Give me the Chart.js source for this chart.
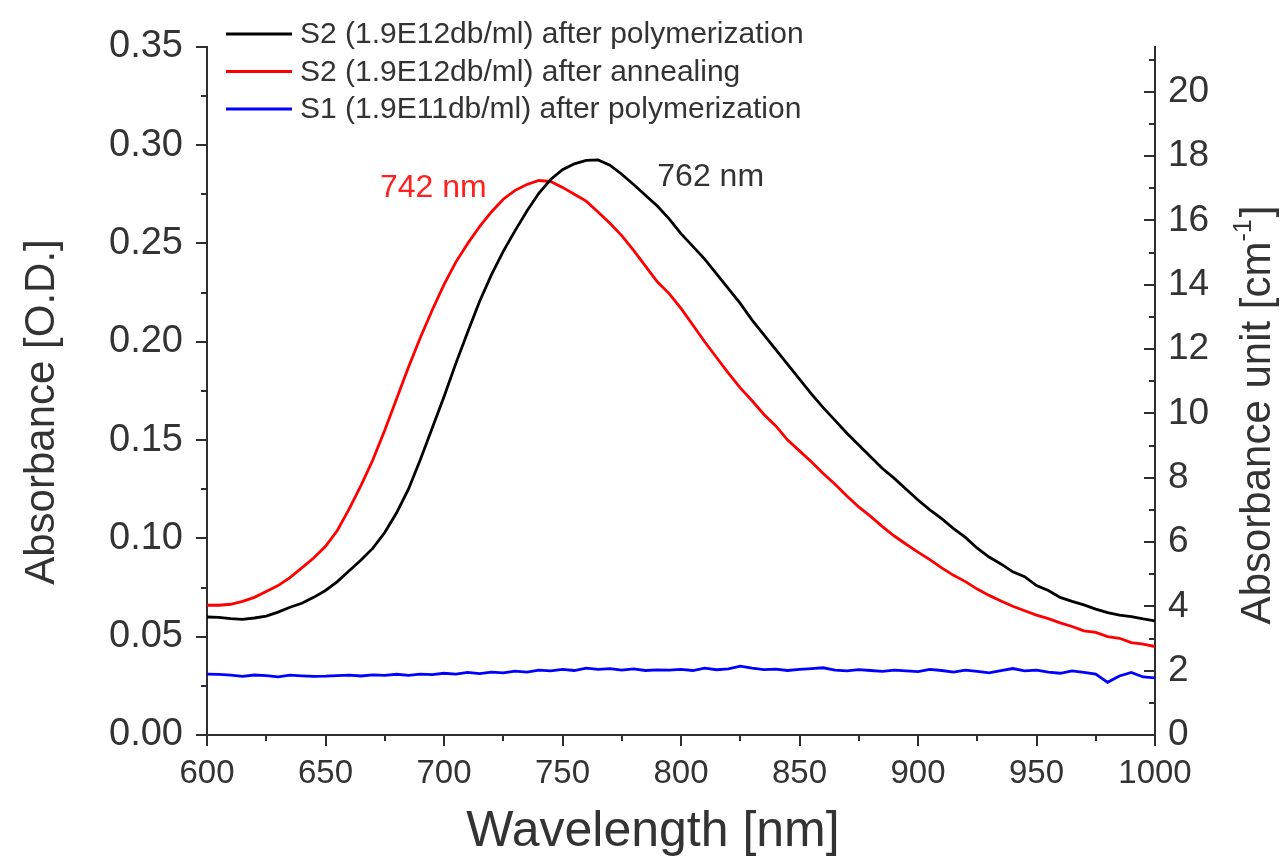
<!DOCTYPE html>
<html>
<head>
<meta charset="utf-8">
<title>Absorbance spectra</title>
<script src="https://cdn.jsdelivr.net/npm/chart.js@4.4.1/dist/chart.umd.min.js"></script>
<style>
  html, body { margin: 0; padding: 0; background: #fff; }
  #wrap { width: 1282px; height: 858px; }
</style>
</head>
<body>
<div id="wrap"><canvas id="chart" width="1282" height="858"></canvas></div>
<script>
/* Absorbance spectra: S2 after polymerization / annealing, S1 after polymerization */

const FONT = '"Liberation Sans", Arial, sans-serif';
const TEXT = '#333333';
const AXIS = '#2e2e2e';

// wavelength grid [nm]
const wavelengths = [
  600, 605, 610, 615, 620, 625, 630, 635, 640, 645,
  650, 655, 660, 665, 670, 675, 680, 685, 690, 695,
  700, 705, 710, 715, 720, 725, 730, 735, 740, 745,
  750, 755, 760, 765, 770, 775, 780, 785, 790, 795,
  800, 805, 810, 815, 820, 825, 830, 835, 840, 845,
  850, 855, 860, 865, 870, 875, 880, 885, 890, 895,
  900, 905, 910, 915, 920, 925, 930, 935, 940, 945,
  950, 955, 960, 965, 970, 975, 980, 985, 990, 995,
  1000,
];

// absorbance [O.D.]
const s2Polymerized = [
  0.0600, 0.0598, 0.0592, 0.0588, 0.0595, 0.0605, 0.0625, 0.0650, 0.0670, 0.0700,
  0.0735, 0.0780, 0.0835, 0.0890, 0.0950, 0.1030, 0.1130, 0.1250, 0.1400, 0.1560,
  0.1720, 0.1890, 0.2050, 0.2205, 0.2340, 0.2460, 0.2565, 0.2665, 0.2755, 0.2825,
  0.2875, 0.2905, 0.2922, 0.2925, 0.2898, 0.2852, 0.2800, 0.2745, 0.2690, 0.2625,
  0.2550, 0.2485, 0.2420, 0.2345, 0.2270, 0.2195, 0.2110, 0.2035, 0.1960, 0.1885,
  0.1810, 0.1735, 0.1665, 0.1600, 0.1535, 0.1475, 0.1415, 0.1355, 0.1305, 0.1250,
  0.1195, 0.1145, 0.1100, 0.1050, 0.1005, 0.0950, 0.0905, 0.0870, 0.0830, 0.0805,
  0.0760, 0.0735, 0.0700, 0.0680, 0.0662, 0.0640, 0.0622, 0.0610, 0.0602, 0.0590,
  0.0580,
];

const s2Annealed = [
  0.0660, 0.0660, 0.0665, 0.0680, 0.0700, 0.0730, 0.0760, 0.0800, 0.0850, 0.0900,
  0.0960, 0.1040, 0.1150, 0.1270, 0.1400, 0.1550, 0.1710, 0.1870, 0.2020, 0.2160,
  0.2290, 0.2405, 0.2500, 0.2585, 0.2660, 0.2725, 0.2770, 0.2800, 0.2820, 0.2815,
  0.2785, 0.2750, 0.2715, 0.2660, 0.2603, 0.2540, 0.2465, 0.2385, 0.2305, 0.2245,
  0.2170, 0.2085, 0.2000, 0.1920, 0.1840, 0.1765, 0.1700, 0.1630, 0.1572, 0.1500,
  0.1445, 0.1390, 0.1330, 0.1275, 0.1215, 0.1160, 0.1112, 0.1060, 0.1012, 0.0970,
  0.0930, 0.0892, 0.0850, 0.0812, 0.0780, 0.0742, 0.0710, 0.0682, 0.0655, 0.0632,
  0.0610, 0.0592, 0.0570, 0.0552, 0.0530, 0.0522, 0.0500, 0.0492, 0.0470, 0.0462,
  0.0450,
];

const s1Polymerized = [
  0.0310, 0.0308, 0.0305, 0.0298, 0.0305, 0.0302, 0.0296, 0.0304, 0.0301, 0.0298,
  0.0299, 0.0302, 0.0305, 0.0300, 0.0306, 0.0303, 0.0309, 0.0303, 0.0310, 0.0307,
  0.0314, 0.0310, 0.0318, 0.0312, 0.0320, 0.0316, 0.0325, 0.0320, 0.0330, 0.0326,
  0.0334, 0.0328, 0.0340, 0.0334, 0.0338, 0.0330, 0.0336, 0.0328, 0.0331, 0.0330,
  0.0334, 0.0328, 0.0340, 0.0332, 0.0336, 0.0350, 0.0340, 0.0332, 0.0335, 0.0328,
  0.0334, 0.0338, 0.0342, 0.0330, 0.0326, 0.0332, 0.0328, 0.0324, 0.0330, 0.0326,
  0.0322, 0.0334, 0.0328, 0.0320, 0.0330, 0.0324, 0.0316, 0.0328, 0.0338, 0.0326,
  0.0330, 0.0320, 0.0314, 0.0326, 0.0318, 0.0310, 0.0268, 0.0300, 0.0318, 0.0295,
  0.0290,
];

const seriesLabels = [
  'S2 (1.9E12db/ml) after polymerization',
  'S2 (1.9E12db/ml) after annealing',
  'S1 (1.9E11db/ml) after polymerization',
];
const seriesColors = ['#000000', '#ff0000', '#0000ff'];

// peak annotations
const peakNotes = [
  { text: '742 nm', color: '#ff2020' },
  { text: '762 nm', color: '#333333' },
];

// right axis: absorbance unit [cm^-1] = O.D. * factor
const OD_MAX = 0.35;
const UNIT_FACTOR = 61.13;

function toPoints(values) {
  return values.map((v, i) => ({ x: wavelengths[i], y: v }));
}

// tick marks: majors + minors, left/bottom outward, right inward
const tickMarks = {
  id: 'tickMarks',
  afterDraw(chart) {
    const { ctx, chartArea: a, scales } = chart;
    const MAJOR = 11, MINOR = 6;
    ctx.save();
    ctx.strokeStyle = AXIS;
    ctx.lineWidth = 2;
    const line = (x1, y1, x2, y2) => {
      ctx.beginPath(); ctx.moveTo(x1, y1); ctx.lineTo(x2, y2); ctx.stroke();
    };
    for (let i = 0; i <= 16; i++) {
      const px = Math.round(scales.x.getPixelForValue(600 + i * 25));
      line(px, a.bottom, px, a.bottom + (i % 2 ? MINOR : MAJOR));
    }
    for (let i = 0; i <= 14; i++) {
      const py = Math.round(scales.y.getPixelForValue(i * 0.025));
      line(a.left, py, a.left - (i % 2 ? MINOR : MAJOR), py);
    }
    for (let i = 0; i <= 21; i++) {
      const py = Math.round(scales.y2.getPixelForValue(i));
      line(a.right, py, a.right - (i % 2 ? MINOR : MAJOR), py);
    }
    ctx.restore();
  },
};

// legend, peak labels and axis titles
const overlay = {
  id: 'overlay',
  afterDraw(chart) {
    const { ctx, scales: { x, y } } = chart;
    ctx.save();

    ctx.font = `30px ${FONT}`;
    ctx.textBaseline = 'middle';
    ctx.textAlign = 'left';
    chart.data.datasets.forEach((ds, i) => {
      const rowY = 34 + i * 37.5;
      ctx.strokeStyle = ds.borderColor;
      ctx.lineWidth = 3;
      ctx.beginPath(); ctx.moveTo(226, rowY); ctx.lineTo(292, rowY); ctx.stroke();
      ctx.fillStyle = TEXT;
      ctx.fillText(ds.label, 300, rowY + 1);
    });

    ctx.font = `32px ${FONT}`;
    ctx.textBaseline = 'alphabetic';
    ctx.fillStyle = peakNotes[0].color;
    ctx.textAlign = 'right';
    ctx.fillText(peakNotes[0].text, x.getPixelForValue(718), y.getPixelForValue(0.2737));
    ctx.fillStyle = peakNotes[1].color;
    ctx.textAlign = 'left';
    ctx.fillText(peakNotes[1].text, x.getPixelForValue(790), y.getPixelForValue(0.279));

    ctx.fillStyle = TEXT;
    ctx.textAlign = 'center';
    ctx.textBaseline = 'middle';
    ctx.font = `50px ${FONT}`;
    ctx.fillText('Wavelength [nm]', 653, 832);

    ctx.font = `42px ${FONT}`;
    ctx.save();
    ctx.translate(42, 412);
    ctx.rotate(-Math.PI / 2);
    ctx.fillText('Absorbance [O.D.]', 0, 0);
    ctx.restore();

    // right title with superscript
    ctx.save();
    ctx.translate(1258, 415);
    ctx.rotate(-Math.PI / 2);
    ctx.textAlign = 'left';
    const main = 'Absorbance unit [cm';
    ctx.font = `42px ${FONT}`;
    const wMain = ctx.measureText(main).width;
    const wClose = ctx.measureText(']').width;
    ctx.font = `25px ${FONT}`;
    const wSup = ctx.measureText('-1').width;
    let cx = -(wMain + wSup + wClose + 2) / 2;
    ctx.font = `42px ${FONT}`;
    ctx.fillText(main, cx, 0);
    cx += wMain;
    ctx.font = `25px ${FONT}`;
    ctx.fillText('-1', cx, -14);
    cx += wSup + 2;
    ctx.font = `42px ${FONT}`;
    ctx.fillText(']', cx, 0);
    ctx.restore();

    ctx.restore();
  },
};

const datasets = [s2Polymerized, s2Annealed, s1Polymerized].map((values, i) => ({
  label: seriesLabels[i],
  data: toPoints(values),
  borderColor: seriesColors[i],
  backgroundColor: seriesColors[i],
  borderWidth: 2.8,
  pointRadius: 0,
  tension: 0,
  fill: false,
  yAxisID: 'y',
}));

new Chart(document.getElementById('chart'), {
  type: 'line',
  data: { datasets },
  plugins: [tickMarks, overlay],
  options: {
    responsive: false,
    animation: false,
    events: [],
    layout: { padding: { top: 29, left: 0, right: 0, bottom: 0 } },
    plugins: {
      legend: { display: false },
      tooltip: { enabled: false },
    },
    scales: {
      x: {
        type: 'linear',
        min: 600,
        max: 1000,
        grid: { display: true, drawOnChartArea: false, drawTicks: false },
        border: { display: true, color: AXIS, width: 2 },
        ticks: {
          stepSize: 50,
          autoSkip: false,
          maxRotation: 0,
          padding: 19,
          color: TEXT,
          font: { family: FONT, size: 33 },
          callback: (v) => String(v),
        },
        afterFit(s) { s.height = 123; },
      },
      y: {
        type: 'linear',
        position: 'left',
        min: 0,
        max: OD_MAX,
        grid: { display: true, drawOnChartArea: false, drawTicks: false },
        border: { display: true, color: AXIS, width: 2 },
        ticks: {
          stepSize: 0.05,
          padding: 24,
          color: TEXT,
          font: { family: FONT, size: 38 },
          callback: (v) => v.toFixed(2),
        },
        afterFit(s) { s.width = 207; },
      },
      y2: {
        type: 'linear',
        position: 'right',
        min: 0,
        max: OD_MAX * UNIT_FACTOR,
        grid: { display: true, drawOnChartArea: false, drawTicks: false },
        border: { display: true, color: AXIS, width: 2 },
        ticks: {
          stepSize: 2,
          includeBounds: false,
          padding: 13,
          color: TEXT,
          font: { family: FONT, size: 37 },
          callback: (v) => String(v),
        },
        afterFit(s) { s.width = 127; },
      },
    },
  },
});
</script>
</body>
</html>
